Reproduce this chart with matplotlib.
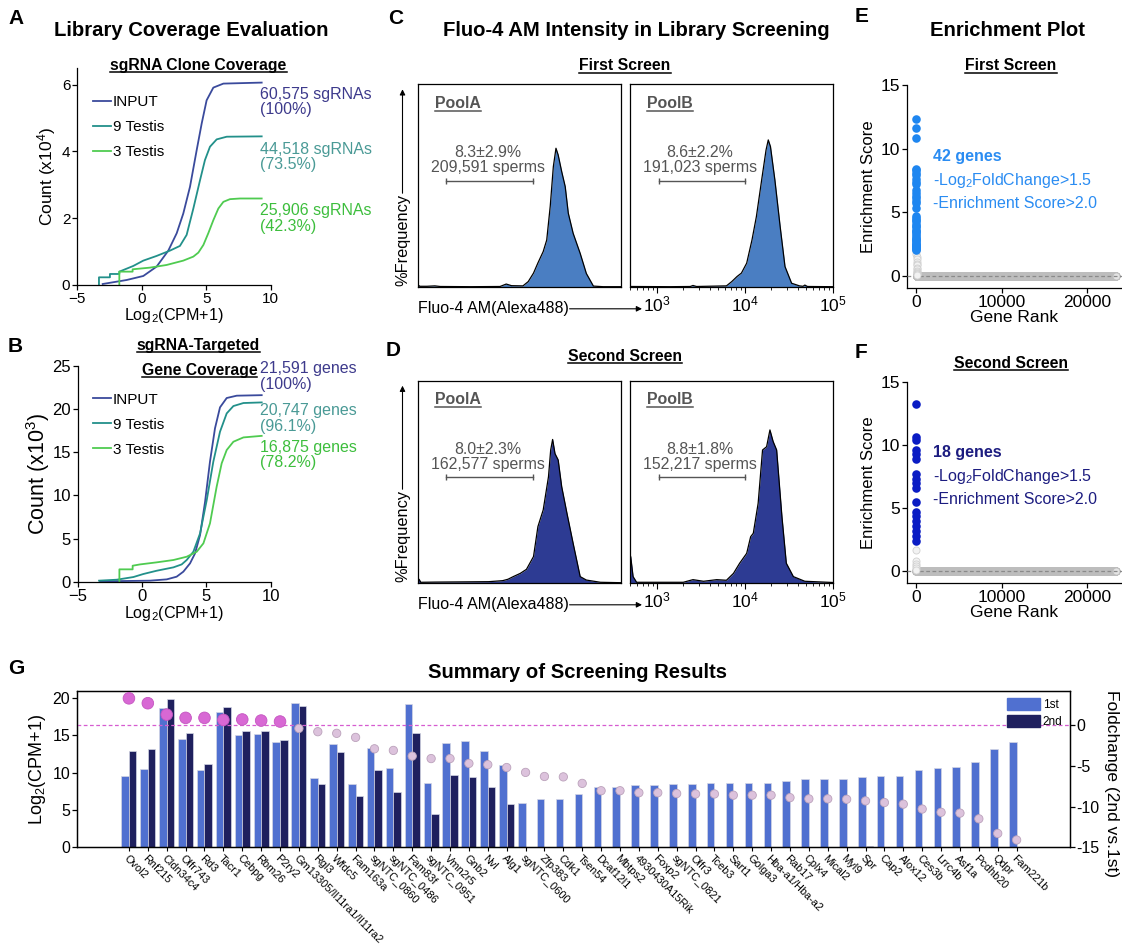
import numpy as np
import matplotlib
matplotlib.use('Agg')
import matplotlib.pyplot as plt
from matplotlib.lines import Line2D
from matplotlib.patches import FancyArrowPatch, Patch

# ---- A / B : cumulative coverage curves (x = log2(CPM+1)) ----
a_input_x = [-3.03, -1.17, 0.12, 1.15, 2.06, 2.71, 3.22, 3.74, 4.26, 4.65, 5.03, 5.55, 6.33, 9.3]
a_input_y = [0.03, 0.15, 0.27, 0.55, 1.03, 1.55, 2.14, 2.94, 4.04, 4.84, 5.53, 5.91, 6.03, 6.06]
a_t9_x = [-3.32, -3.32, -2.47, -2.47, -1.74, -1.74, -0.66, 0.12, 1.15, 2.19, 2.96, 3.48, 4.0, 4.52, 4.9, 5.29, 5.81, 6.59, 9.3]
a_t9_y = [0.0, 0.23, 0.23, 0.33, 0.33, 0.40, 0.57, 0.73, 0.87, 1.03, 1.17, 1.5, 2.29, 3.14, 3.74, 4.14, 4.36, 4.44, 4.45]
a_t3_x = [-1.74, -1.74, -0.71, -0.71, 0.64, 1.93, 3.22, 4.0, 4.39, 4.78, 5.16, 5.55, 5.94, 6.33, 6.84, 7.62, 9.3]
a_t3_y = [0.0, 0.40, 0.40, 0.47, 0.52, 0.6, 0.73, 0.85, 0.97, 1.2, 1.55, 1.94, 2.29, 2.49, 2.57, 2.59, 2.59]

b_input_x = [-3.26, 0.62, 1.92, 2.69, 3.21, 3.73, 4.12, 4.51, 4.9, 5.28, 5.67, 6.06, 6.58, 7.36, 9.3]
b_input_y = [0.04, 0.12, 0.27, 0.58, 1.16, 2.12, 3.28, 5.4, 9.26, 13.89, 17.75, 20.18, 21.26, 21.53, 21.59]
b_t9_x = [-3.34, -1.97, -0.67, 0.1, 1.14, 2.44, 3.08, 3.47, 3.99, 4.51, 5.03, 5.54, 6.06, 6.58, 7.1, 7.88, 9.3]
b_t9_y = [0.12, 0.23, 0.54, 0.89, 1.27, 1.66, 2.0, 2.51, 3.47, 5.59, 9.45, 13.89, 17.36, 19.48, 20.33, 20.68, 20.75]
b_t3_x = [-1.76, -1.76, -0.73, -0.73, -0.16, 1.14, 2.44, 3.47, 4.25, 4.77, 5.28, 5.8, 6.19, 6.58, 7.1, 7.88, 9.3]
b_t3_y = [0.0, 1.43, 1.43, 1.85, 2.0, 2.24, 2.51, 2.89, 3.47, 4.44, 6.75, 11.0, 13.7, 15.24, 16.2, 16.7, 16.88]

series_names = ['INPUT', '9 Testis', '3 Testis']
a_totals = ['60,575 sgRNAs\n(100%)', '44,518 sgRNAs\n(73.5%)', '25,906 sgRNAs\n(42.3%)']
b_totals = ['21,591 genes\n(100%)', '20,747 genes\n(96.1%)', '16,875 genes\n(78.2%)']

# ---- C / D : flow histograms (x = log10 intensity, y = relative frequency) ----
c_poolA_log = [2.695, 2.72, 2.80, 2.89, 2.95, 3.3, 3.63, 3.70, 3.76, 3.89, 3.95, 4.01, 4.06, 4.12, 4.16, 4.20,
               4.235, 4.265, 4.29, 4.33, 4.37, 4.405, 4.46, 4.54, 4.61, 4.69, 4.8, 5.0]
c_poolA_freq = [0.012, 0.005, 0.005, 0.007, 0.004, 0.003, 0.004, 0.016, 0.008, 0.007, 0.028, 0.07, 0.12, 0.176,
                0.233, 0.40, 0.594, 0.685, 0.652, 0.57, 0.496, 0.365, 0.266, 0.167, 0.068, 0.006, 0.003, 0.003]
c_poolB_log = [2.695, 2.71, 3.15, 3.38, 3.41, 3.45, 3.79, 3.85, 3.91, 3.96, 4.02, 4.08, 4.13, 4.19, 4.24, 4.265,
               4.29, 4.34, 4.40, 4.455, 4.53, 4.62, 4.66, 4.68, 4.71, 5.0]
c_poolB_freq = [0.004, 0.004, 0.003, 0.004, 0.009, 0.004, 0.007, 0.028, 0.053, 0.07, 0.119, 0.233, 0.348, 0.529,
                0.677, 0.726, 0.693, 0.529, 0.299, 0.102, 0.02, 0.007, 0.005, 0.011, 0.004, 0.003]
d_poolA_log = [2.695, 2.71, 2.73, 2.9, 3.5, 3.66, 3.72, 3.78, 3.86, 3.93, 4.01, 4.06, 4.12, 4.18, 4.205, 4.227,
               4.254, 4.29, 4.33, 4.39, 4.46, 4.54, 4.61, 4.77, 5.0]
d_poolA_freq = [0.02, 0.02, 0.005, 0.006, 0.008, 0.013, 0.02, 0.033, 0.049, 0.069, 0.132, 0.28, 0.362, 0.526,
                0.658, 0.71, 0.64, 0.609, 0.477, 0.345, 0.197, 0.033, 0.016, 0.005, 0.003]
d_poolB_log = [2.695, 2.703, 2.73, 2.77, 3.3, 3.41, 3.53, 3.68, 3.79, 3.87, 3.94, 4.02, 4.065, 4.095, 4.15, 4.20,
               4.246, 4.284, 4.32, 4.36, 4.42, 4.47, 4.55, 4.68, 5.0]
d_poolB_freq = [0.14, 0.131, 0.033, 0.005, 0.005, 0.018, 0.01, 0.018, 0.015, 0.049, 0.099, 0.148, 0.23, 0.247,
                0.395, 0.658, 0.674, 0.757, 0.70, 0.658, 0.33, 0.099, 0.033, 0.01, 0.004]
gate_log = [3.02, 4.0]
c_gate_text = ['8.3±2.9%\n209,591 sperms', '8.6±2.2%\n191,023 sperms']
d_gate_text = ['8.0±2.3%\n162,577 sperms', '8.8±1.8%\n152,217 sperms']

# ---- E / F : enrichment scores ----
n_genes = 23300
e_hits = [12.3, 11.6, 10.8, 8.4, 8.3, 8.1, 7.9, 7.6, 7.4, 7.2, 6.7, 6.5, 6.3, 6.1, 5.9, 5.7, 5.3, 4.7, 4.5, 4.4,
          4.3, 4.1, 3.9, 3.8, 3.6, 3.5, 3.4, 3.3, 3.1, 3.0, 2.9, 2.8, 2.7, 2.6, 2.5, 2.4, 2.35, 2.3, 2.2, 2.15, 2.1, 2.05]
e_low = [1.9, 1.7, 1.5, 1.3, 1.1, 0.9, 0.8, 0.6, 0.5, 0.4, 0.3, 0.2, 0.15, 0.1, 0.05]
f_hits = [13.2, 10.6, 10.4, 9.6, 9.3, 8.9, 7.7, 7.3, 7.0, 6.6, 5.5, 4.7, 4.4, 4.0, 3.6, 3.2, 2.8, 2.4]
f_low = [1.7, 0.8, 0.6, 0.4, 0.25, 0.1]

# ---- G : summary bars ----
genes = ['Ovol2', 'Rnf215', 'Cldn34c4', 'Olfr743', 'Rd3', 'Tacr1', 'Cebpg', 'Rbm26', 'P2ry2',
         'Gm13305/Il11ra1/Il11ra2', 'Rgl3', 'Wfdc5', 'Fam163a', 'sgNTC_0860', 'sgNTC_0486', 'Fam83f',
         'sgNTC_0951', 'Vmn2r5', 'Gnb2', 'Nvl', 'Alg1', 'sgNTC_0600', 'Zfp383', 'Cdk1', 'Tsen54', 'Dcaf12l1',
         'Mbtps2', '4930430A15Rik', 'Foxp2', 'sgNTC_0821', 'Olfr3', 'Tceb3', 'Sart1', 'Golga3', 'Hba-a1/Hba-a2',
         'Rab17', 'Cplx4', 'Mical2', 'Myl9', 'Spr', 'Cap2', 'Alox12', 'Ces3b', 'Lrrc4b', 'Asf1a', 'Pcdhb20',
         'Qdpr', 'Fam221b']
first = [9.6, 10.5, 18.6, 14.5, 10.3, 18.1, 15.0, 15.2, 14.1, 19.3, 9.2, 13.8, 8.4, 13.3, 10.6, 19.1, 8.6, 13.9,
         14.2, 12.9, 11.0, 5.9, 6.4, 6.4, 7.1, 8.1, 8.1, 8.3, 8.3, 8.45, 8.45, 8.55, 8.6, 8.65, 8.65, 8.9, 9.1,
         9.1, 9.1, 9.4, 9.5, 9.6, 10.3, 10.6, 10.8, 11.4, 13.2, 14.1]
second = [12.9, 13.2, 19.8, 15.3, 11.2, 18.7, 15.6, 15.6, 14.4, 18.9, 8.4, 12.7, 6.8, 10.4, 7.4, 15.3, 4.4, 9.7,
          9.4, 8.0, 5.75] + [None] * 18 + [0.15] + [None] * 8
fold = [3.3, 2.7, 1.3, 0.9, 0.9, 0.65, 0.7, 0.57, 0.45, -0.4, -0.8, -1.0, -1.5, -2.9, -3.1, -3.8, -4.1, -4.1,
        -4.7, -4.85, -5.2, -5.8, -6.3, -6.35, -7.15, -8.05, -8.05, -8.3, -8.3, -8.4, -8.45, -8.45, -8.6, -8.6,
        -8.6, -8.9, -9.05, -9.05, -9.1, -9.3, -9.5, -9.7, -10.3, -10.7, -10.8, -11.5, -13.3, -14.1]

plt.rcParams['font.family'] = ['Liberation Sans', 'DejaVu Sans']
plt.rcParams['mathtext.fontset'] = 'custom'
plt.rcParams['mathtext.rm'] = 'Liberation Sans'
plt.rcParams['mathtext.it'] = 'Liberation Sans:italic'
plt.rcParams['mathtext.bf'] = 'Liberation Sans:bold'
plt.rcParams['axes.linewidth'] = 0.9

W, H = 1122, 946
fig = plt.figure(figsize=(W / 100, H / 100), dpi=100)
underlined = []
TITLE = 14.6


def px_axes(l, t, r, b):
    return fig.add_axes([l / W, 1 - b / H, (r - l) / W, (b - t) / H])


def ftext(x, y, s, **kw):
    return fig.text(x / W, 1 - y / H, s, **kw)


def panel_letter(x, y, s):
    ftext(x, y, s, fontsize=15, fontweight='bold', va='center', ha='left')


def heading(x, y, s, size=11.3, color='black'):
    t = ftext(x, y, s, fontsize=size, fontweight='bold', ha='center', va='center', color=color)
    underlined.append((t, color))
    return t


# ---------------- A and B ----------------
line_cols = ['#3A4A9C', '#22908A', '#4FCB50']
text_cols = ['#3D3A8C', '#4A9A96', '#3DBE3D']


def coverage(ax, curves, ymax, yticks, ylab, ylab_size, ylab_pad, tick_size, totals, total_y):
    for (cx, cy), col, name in zip(curves, line_cols, series_names):
        ax.plot(cx, cy, color=col, lw=1.3, label=name)
    ax.set_xlim(-5, 10)
    ax.set_ylim(0, ymax)
    ax.set_xticks([-5, 0, 5, 10])
    ax.set_yticks(yticks)
    ax.spines[['top', 'right']].set_visible(False)
    ax.tick_params(labelsize=tick_size, length=3.5, width=0.9, pad=1.5)
    ax.set_xlabel('Log$_2$(CPM+1)', fontsize=11.6, labelpad=0)
    ax.set_ylabel(ylab, fontsize=ylab_size, labelpad=ylab_pad)
    ax.legend(loc='upper left', bbox_to_anchor=(0.08, 0.875), frameon=False, fontsize=11,
              handlelength=1.2, handletextpad=0.1, labelspacing=0.72, borderpad=0, borderaxespad=0)
    for s, yy, col in zip(totals, total_y, text_cols):
        ftext(260, yy, s, fontsize=11.5, color=col, va='center', ha='left', linespacing=1.0)


axA = px_axes(77.3, 67.9, 270.7, 285)
coverage(axA, [(a_input_x, a_input_y), (a_t9_x, a_t9_y), (a_t3_x, a_t3_y)], 6.5, [0, 2, 4, 6],
         'Count (x10$^4$)', 12.5, 3, 11, a_totals, [102, 157, 218.5])
axB = px_axes(77.7, 365.7, 270.7, 581.7)
coverage(axB, [(b_input_x, b_input_y), (b_t9_x, b_t9_y), (b_t3_x, b_t3_y)], 25, [0, 5, 10, 15, 20, 25],
         'Count (x10$^3$)', 15.5, 0, 12, b_totals, [376.5, 418.5, 455])

panel_letter(8, 18, 'A')
ftext(191, 31, 'Library Coverage Evaluation', fontsize=TITLE, fontweight='bold', ha='center', va='center')
heading(198.5, 65.5, 'sgRNA Clone Coverage')
panel_letter(8, 346, 'B')
heading(198.5, 345, 'sgRNA-Targeted')
heading(199.5, 370, 'Gene Coverage')

# ---------------- C and D ----------------
hist_sets = [
    (84.3, 287.3, '#4A7EC2', [(c_poolA_log, c_poolA_freq), (c_poolB_log, c_poolB_freq)], c_gate_text),
    (380.7, 583.3, '#2D3B93', [(d_poolA_log, d_poolA_freq), (d_poolB_log, d_poolB_freq)], d_gate_text),
]
freq_labels = []
for top, bot, col, hists, gtexts in hist_sets:
    for k, ((lx, fy), gtxt, pool) in enumerate(zip(hists, gtexts, ['PoolA', 'PoolB'])):
        left = 417.7 if k == 0 else 630
        ax = px_axes(left, top, left + 203, bot)
        xs = 10 ** np.array(lx)
        ax.fill_between(xs, fy, color=col, lw=0)
        ax.plot(xs, fy, color='black', lw=0.9)
        ax.set_xscale('log')
        ax.set_xlim(10 ** 2.695, 1e5)
        ax.set_ylim(0, 1)
        ax.set_yticks([])
        gx = 10 ** np.array(gate_log)
        ax.plot(gx, [0.525, 0.525], color='#555555', lw=1.0, marker='|', ms=5, mew=1.0)
        ax.text(10 ** 3.49, 0.625, gtxt, fontsize=11.4, color='#555555', ha='center', va='center', linespacing=1.0)
        t = ax.text(0.085, 0.905, pool, transform=ax.transAxes, fontsize=11.4, fontweight='bold',
                    color='#555555', ha='left', va='center')
        underlined.append((t, '#555555'))
        if k == 0:
            ax.set_xticks([])
            ax.minorticks_off()
        else:
            ax.set_xticks([1e3, 1e4, 1e5])
            ax.tick_params(axis='x', which='major', labelsize=12.5, length=4, width=0.8, pad=1)
            ax.tick_params(axis='x', which='minor', length=2.5, width=0.6)
    fl = ftext(402.5, bot - 47, '%Frequency', rotation=90, fontsize=11.8, ha='center', va='center')
    xl = ftext(417.7, bot + 21.5, 'Fluo-4 AM(Alexa488)', fontsize=11.5, ha='left', va='center')
    freq_labels.append((fl, top + 5, xl, bot + 21.5))

panel_letter(388, 18, 'C')
ftext(636, 31, 'Fluo-4 AM Intensity in Library Screening', fontsize=TITLE, fontweight='bold', ha='center', va='center')
heading(625, 66, 'First Screen')
panel_letter(386, 351, 'D')
heading(625, 356, 'Second Screen')

# ---------------- E and F ----------------
enrich_sets = [
    (85, 287.7, e_hits, e_low, '#1E86F0', '#2A8CF2', '42 genes', 156),
    (381.7, 583.3, f_hits, f_low, '#0A1CC4', '#1C1C80', '18 genes', 452),
]
for top, bot, hits, low, dcol, tcol, ntxt, ty in enrich_sets:
    ax = px_axes(906.7, top, 1122, bot)
    r_hits = np.arange(1, len(hits) + 1)
    r_low = np.arange(len(hits) + 1, len(hits) + len(low) + 1)
    r_zero = np.arange(len(hits) + len(low) + 1, n_genes + 1)
    ax.scatter(r_zero, np.zeros(len(r_zero)), s=26, facecolor='#E4E4E4', edgecolor='#BDBDBD', lw=0.6, zorder=2)
    ax.axhline(0, color='#8A8A8A', lw=0.9, ls=(0, (3, 2)), zorder=3)
    ax.scatter(r_low, low, s=26, facecolor='#F2F2F2', edgecolor='#D0D0D0', lw=0.6, zorder=3)
    ax.scatter(r_hits, hits, s=38, color=dcol, lw=0, zorder=4)
    ax.set_xlim(-1100, 24050)
    ax.set_ylim(-0.95, 15)
    ax.set_xticks([0, 10000, 20000])
    ax.set_yticks([0, 5, 10, 15])
    ax.spines[['top', 'right']].set_visible(False)
    ax.tick_params(labelsize=12.5, length=3.5, width=0.9, pad=1.5)
    ax.set_xlabel('Gene Rank', fontsize=12.5, labelpad=0)
    ax.set_ylabel('Enrichment Score', fontsize=12, labelpad=3)
    ftext(932.7, ty, ntxt, fontsize=11.5, fontweight='bold', color=tcol, va='center')
    ftext(932.7, ty + 24, '-Log$_2$FoldChange>1.5', fontsize=11.5, color=tcol, va='center')
    ftext(932.7, ty + 47.5, '-Enrichment Score>2.0', fontsize=11.5, color=tcol, va='center')

panel_letter(855, 17, 'E')
ftext(1008, 31, 'Enrichment Plot', fontsize=TITLE, fontweight='bold', ha='center', va='center')
heading(1011, 66, 'First Screen')
panel_letter(855, 353, 'F')
heading(1011, 363, 'Second Screen')

# ---------------- G ----------------
c1, c2 = '#5070D0', '#1F205E'
axG = px_axes(77, 691, 1069.5, 847.3)
x = np.arange(len(genes))
axG.bar(x - 0.2, first, width=0.4, color=c1, edgecolor='#D4D6E4', lw=0.5)
idx2 = [i for i, v in enumerate(second) if v is not None]
axG.bar(x[idx2] + 0.2, [second[i] for i in idx2], width=0.4, color=c2, edgecolor='#D4D6E4', lw=0.5)
axG.set_xlim(-2.75, 49.8)
axG.set_ylim(0, 20.9)
axG.set_yticks([0, 5, 10, 15, 20])
axG.set_xticks(x)
axG.set_xticklabels(genes, rotation=-45, ha='left', va='top', rotation_mode='anchor', fontsize=7.9)
axG.tick_params(axis='y', labelsize=11.5, length=3.5, width=0.9, pad=1.5)
axG.tick_params(axis='x', length=3, width=0.8, pad=1)
axG.set_ylabel('Log$_2$(CPM+1)', fontsize=13, labelpad=3)

tw = axG.twinx()
tw.set_ylim(-15, 4.2)
tw.set_yticks([0, -5, -10, -15])
tw.set_yticklabels(['0', '-5', '-10', '-15'])
tw.tick_params(labelsize=11.5, length=3.5, width=0.9, pad=1.5)
tw.axhline(0, color='#D65CD0', lw=0.9, ls=(0, (3, 2)))
pos = [v > 0 for v in fold]
tw.scatter(x, fold, s=[70 if p else 36 for p in pos],
           color=['#D868D4' if p else '#DCC2DC' for p in pos],
           edgecolor=['#C455C0' if p else '#BBA2BB' for p in pos], lw=0.6, zorder=3)
tw.set_ylabel('Foldchange (2nd vs.1st)', fontsize=12.5, rotation=270, labelpad=14)
tw.yaxis.label.set_y(0.41)
tw.legend([Patch(color=c1), Patch(color=c2)], ['1st', '2nd'], loc='upper right', fontsize=8.5,
          frameon=False, handlelength=2.8, handleheight=1.2, handletextpad=0.2, labelspacing=0.3,
          borderaxespad=0.2)

panel_letter(8, 668, 'G')
ftext(578, 672, 'Summary of Screening Results', fontsize=TITLE, fontweight='bold', ha='center', va='center')

# underlines and axis arrows need real text sizes
rend = fig.canvas.get_renderer()
for t, col in underlined:
    bb = t.get_window_extent(renderer=rend)
    fig.add_artist(Line2D([bb.x0 / W, bb.x1 / W], [(bb.y0 + 0.5) / H] * 2, transform=fig.transFigure,
                          color=col, lw=1.1))
for fl, tip_y, xl, xl_y in freq_labels:
    bb = fl.get_window_extent(renderer=rend)
    fig.add_artist(FancyArrowPatch((402.5 / W, (bb.y1 + 1) / H), (402.5 / W, 1 - tip_y / H),
                                   transform=fig.transFigure, arrowstyle='-|>', mutation_scale=8,
                                   lw=0.8, color='black', shrinkA=0, shrinkB=0))
    bb = xl.get_window_extent(renderer=rend)
    fig.add_artist(FancyArrowPatch(((bb.x1 + 1) / W, 1 - xl_y / H), (642 / W, 1 - xl_y / H),
                                   transform=fig.transFigure, arrowstyle='-|>', mutation_scale=8,
                                   lw=0.8, color='black', shrinkA=0, shrinkB=0))

fig.savefig('out.png', dpi=100, facecolor='white')
